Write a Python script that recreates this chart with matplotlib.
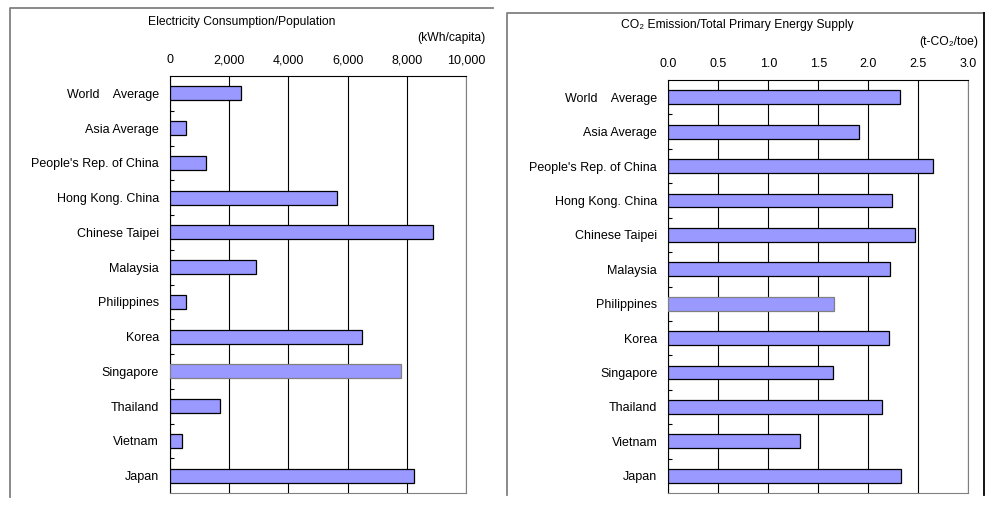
import matplotlib.pyplot as plt
from matplotlib.lines import Line2D
from matplotlib.ticker import StrMethodFormatter, FixedLocator
import numpy as np

plt.rcParams['font.family'] = ['Liberation Sans', 'DejaVu Sans']

# -----------------------------------
#   DATOS
# -----------------------------------
paises = ["World    Average", "Asia Average", "People's Rep. of China",
          "Hong Kong. China", "Chinese Taipei", "Malaysia", "Philippines",
          "Korea", "Singapore", "Thailand", "Vietnam", "Japan"]

elec_pob = [2390, 550, 1210, 5630, 8870, 2900, 530, 6500, 7810, 1700, 395, 8250]
co2_tpes = [2.32, 1.91, 2.65, 2.24, 2.47, 2.22, 1.66, 2.21, 1.65, 2.14, 1.32, 2.33]

ticks_elec = [0, 2000, 4000, 6000, 8000, 10000]
ticks_co2 = [0.0, 0.5, 1.0, 1.5, 2.0, 2.5, 3.0]

W, H = 994, 508
COLOR_BARRA = "#9999FF"
GRIS = "#808080"


def px(x0, y0, x1, y1):
    # rectangulo en pixeles (origen arriba-izquierda) -> fraccion de figura
    return [x0 / W, 1 - y1 / H, (x1 - x0) / W, (y1 - y0) / H]


def panel(ax, valores, ticks, fmt, bordes_grises):
    y = np.arange(len(paises))
    bordes = [GRIS if i in bordes_grises else "black" for i in range(len(paises))]
    ax.barh(y, valores, height=0.4, color=COLOR_BARRA,
            edgecolor=bordes, linewidth=0.9, zorder=3)

    ax.set_ylim(len(paises) - 0.5, -0.5)
    ax.set_xlim(ticks[0], ticks[-1])

    ax.set_yticks(y)
    ax.set_yticklabels(paises, fontsize=9)
    ax.yaxis.set_minor_locator(FixedLocator(np.arange(0.5, len(paises) - 0.5, 1)))
    ax.tick_params(axis="y", which="major", length=0, pad=8)
    ax.tick_params(axis="y", which="minor", direction="in", length=3,
                   width=0.8, color="black")

    ax.xaxis.tick_top()
    ax.set_xticks(ticks)
    ax.xaxis.set_major_formatter(StrMethodFormatter(fmt))
    ax.tick_params(axis="x", length=0, pad=7, labelsize=9)

    ax.grid(axis="x", color="black", linewidth=0.8)
    ax.set_axisbelow(True)

    ax.spines["left"].set_color("black")
    ax.spines["top"].set_color("black")
    ax.spines["right"].set_color(GRIS)
    ax.spines["bottom"].set_color(GRIS)
    for s in ax.spines.values():
        s.set_linewidth(0.8)


fig = plt.figure(figsize=(W / 100, H / 100), dpi=100)

ax1 = fig.add_axes(px(170, 76, 466, 493))
panel(ax1, elec_pob, ticks_elec, "{x:,.0f}", bordes_grises=[8])

ax2 = fig.add_axes(px(668.3, 80, 968.3, 493))
panel(ax2, co2_tpes, ticks_co2, "{x:.1f}", bordes_grises=[6])

# titulos y unidades
fig.text(242 / W, 1 - 22 / H, "Electricity Consumption/Population",
         ha="center", va="center", fontsize=8.7)
fig.text(485 / W, 1 - 38 / H, "(kWh/capita)", ha="right", va="center", fontsize=8.7)
fig.text(737 / W, 1 - 25 / H, "CO₂ Emission/Total Primary Energy Supply",
         ha="center", va="center", fontsize=8.7)
fig.text(978 / W, 1 - 42 / H, "(t-CO₂/toe)", ha="right", va="center", fontsize=8.7)

# marcos de los paneles
def linea(xs, ys, color):
    fig.add_artist(Line2D([x / W for x in xs], [1 - y / H for y in ys],
                          color=color, linewidth=1.3))

linea([9.5, 9.5, 493], [497, 7.5, 7.5], GRIS)
linea([507, 507, 984], [495, 12.5, 12.5], GRIS)
linea([984, 984], [12.5, 495], "black")

fig.savefig("out.png", dpi=100)
